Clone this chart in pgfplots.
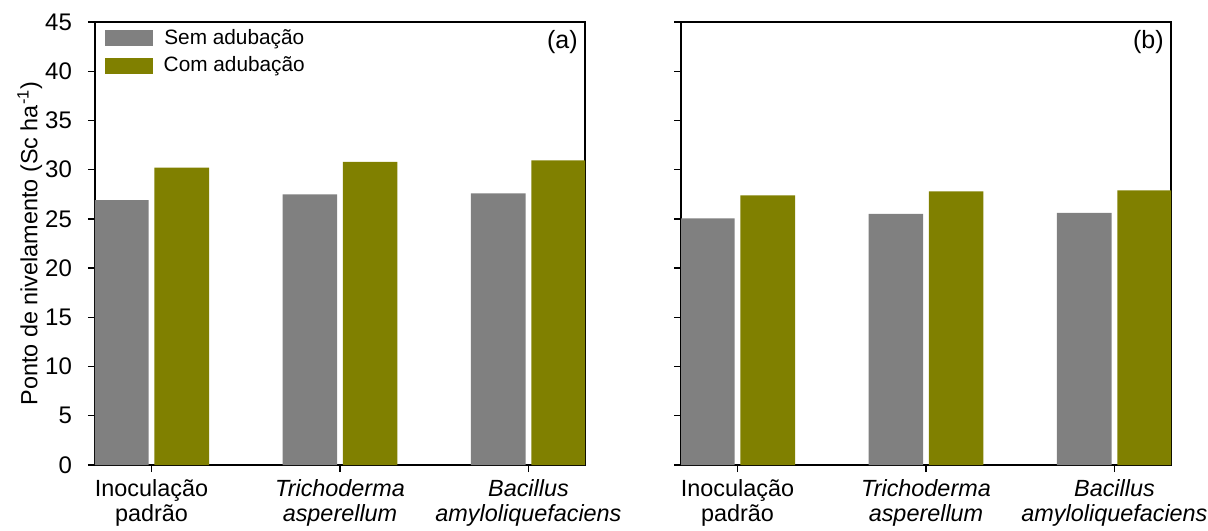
\documentclass[border=0pt]{standalone}
\usepackage{fontspec}
\setmainfont{Liberation Sans}
\usepackage{pgfplots}
\pgfplotsset{compat=1.18}
\definecolor{cgray}{RGB}{128,128,128}
\definecolor{colive}{RGB}{128,128,0}
\pgfplotsset{
  panel/.style={
    scale only axis,
    width=245pt, height=221.5pt,
    anchor=south west,
    xmin=-0.3, xmax=2.3,
    ymin=0, ymax=45,
    ytick={0,5,...,45},
    xtick={0,1,2},
    xticklabels={{Inoculação\\padrão},{\textit{Trichoderma}\\\textit{asperellum}},{\textit{Bacillus}\\\textit{amyloliquefaciens}}},
    xticklabel style={align=center, font=\fontsize{11.7}{12.5}\selectfont},
    yticklabel style={font=\fontsize{12}{13}\selectfont, xshift=-4.5pt},
    /pgf/number format/assume math mode=true,
    tick align=outside,
    xtick pos=left, ytick pos=left,
    major tick length=3.5pt,
    axis line style={black, line width=0.7pt},
    tick style={black, line width=0.7pt},
    ybar, bar width=0.29,
    every axis plot/.append style={draw=none},
    clip=true,
  },
}
\begin{document}
\begin{tikzpicture}
\path[use as bounding box] (-47.5pt,-32.5pt) rectangle (556.5pt,232.5pt);
\begin{axis}[panel, at={(0pt,0pt)},
  ylabel={Ponto de nivelamento (Sc ha\textsuperscript{-1})},
  ylabel style={at={(axis description cs:-0.133,0.5)}, anchor=center, font=\fontsize{11.7}{13}\selectfont},
  legend style={at={(axis description cs:0.015,0.998)}, anchor=north west, draw=none, fill=none,
    font=\fontsize{10.4}{12}\selectfont, row sep=0.7pt, inner sep=1pt,
    /tikz/every odd column/.append style={column sep=3.5pt}},
  legend image code/.code={\fill (0pt,-4pt) rectangle (24pt,4pt);},
]
\addplot[fill=cgray, bar shift=-0.16] coordinates {(0,26.9) (1,27.5) (2,27.6)};
\addplot[fill=colive, bar shift=0.16] coordinates {(0,30.2) (1,30.8) (2,30.95)};
\legend{Sem adubação, Com adubação}
\node[anchor=north east, inner sep=0pt, xshift=-3.5pt, yshift=-4pt, font=\fontsize{12.5}{13}\selectfont] at (rel axis cs:1,1) {(a)};
\end{axis}
\begin{axis}[panel, at={(293pt,0pt)}, yticklabels={}]
\addplot[fill=cgray, bar shift=-0.16] coordinates {(0,25.05) (1,25.5) (2,25.6)};
\addplot[fill=colive, bar shift=0.16] coordinates {(0,27.4) (1,27.8) (2,27.9)};
\node[anchor=north east, inner sep=0pt, xshift=-3.5pt, yshift=-4pt, font=\fontsize{12.5}{13}\selectfont] at (rel axis cs:1,1) {(b)};
\end{axis}
\end{tikzpicture}
\end{document}
